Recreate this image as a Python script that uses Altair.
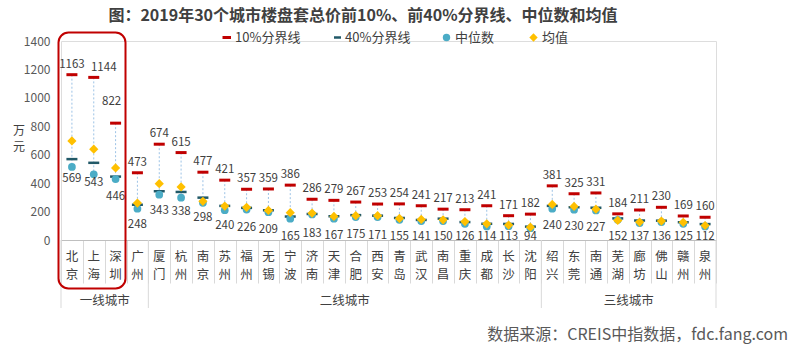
import altair as alt
import pandas as pd

# ---------------- data ----------------
cities = ["北京", "上海", "深圳", "广州", "厦门", "杭州", "南京", "苏州", "福州", "无锡",
          "宁波", "济南", "天津", "合肥", "西安", "青岛", "武汉", "南昌", "重庆", "成都",
          "长沙", "沈阳", "绍兴", "东莞", "南通", "芜湖", "廊坊", "佛山", "赣州", "泉州"]
tiers = ["一线城市"] * 4 + ["二线城市"] * 18 + ["三线城市"] * 8
p10 = [1163, 1144, 822, 473, 674, 615, 477, 421, 357, 359,
       386, 286, 279, 267, 253, 254, 241, 217, 213, 241,
       171, 182, 381, 325, 331, 184, 211, 230, 169, 160]
p40 = [569, 543, 446, 248, 343, 338, 298, 240, 226, 209,
       165, 183, 167, 175, 171, 155, 141, 150, 126, 114,
       113, 94, 240, 230, 227, 152, 137, 136, 125, 112]
median = [514, 462, 429, 220, 319, 298, 262, 210, 214, 196,
          150, 180, 150, 161, 161, 142, 133, 133, 114, 95,
          97, 83, 220, 213, 208, 142, 119, 126, 114, 95]
mean = [697, 639, 507, 260, 396, 373, 272, 239, 230, 208,
        192, 189, 166, 171, 171, 152, 145, 142, 130, 114,
        105, 90, 250, 236, 217, 138, 126, 133, 124, 102]

y_ticks = [0, 200, 400, 600, 800, 1000, 1200, 1400]
group_names = ["一线城市", "二线城市", "三线城市"]
group_center_city = ["深圳", "合肥", "廊坊"]
group_start_city = ["北京", "厦门", "绍兴"]
group_end_city = ["泉州"]
shifted_label_cities = ["上海", "深圳"]
legend_labels = ["10%分界线", "40%分界线", "中位数", "均值"]
title_text = "图：2019年30个城市楼盘套总价前10%、前40%分界线、中位数和均值"
source_text = "数据来源：CREIS中指数据，fdc.fang.com"
y_title = ["万", "元"]

# ---------------- styles ----------------
FONT = "Noto Sans CJK SC"
RED = "#C00000"
DARK = "#215968"
TEAL = "#4BACC6"
GOLD = "#FFC000"
TXT = "#404040"

df = pd.DataFrame(dict(city=cities, tier=tiers, p10=p10, p40=p40, med=median, mean=mean))
df["low"] = df[["med", "mean"]].min(axis=1)

xscale = alt.Scale(domain=cities, paddingInner=0, paddingOuter=0)
x_axis = alt.Axis(title=None, labels=False, grid=False, domainColor="#BFBFBF",
                  tickColor="#D9D9D9", tickBand="extent", tickSize=43)
yscale = alt.Scale(domain=[0, 1400], nice=False, zero=True)
y_axis = alt.Axis(values=y_ticks, format="d", title=None, grid=False, ticks=False, domain=False,
                  labelPadding=11, labelFontSize=12, labelColor="#595959", labelFont=FONT)


def X(**kw):
    return alt.X("city:N", sort=cities, scale=xscale, axis=x_axis, **kw)


def Y(field):
    return alt.Y(field, scale=yscale, axis=y_axis)


base = alt.Chart(df)

drop = base.mark_rule(color="#9DC3E6", strokeDash=[2, 2], strokeWidth=1).encode(
    x=X(), y=Y("p10:Q"), y2="low:Q")
t10 = base.mark_tick(color=RED, thickness=3, size=11, orient="horizontal", opacity=1).encode(
    x=X(), y=Y("p10:Q"))
t40 = base.mark_tick(color=DARK, thickness=2.5, size=11, orient="horizontal", opacity=1).encode(
    x=X(), y=Y("p40:Q"))
med_pts = base.mark_point(shape="circle", filled=True, size=60, color=TEAL, opacity=1).encode(
    x=X(), y=Y("med:Q"))
mean_pts = base.mark_point(shape="diamond", filled=True, size=85, color=GOLD, opacity=1).encode(
    x=X(), y=Y("mean:Q"))
lab10 = base.transform_filter(
    ~alt.FieldOneOfPredicate(field="city", oneOf=shifted_label_cities)).mark_text(
    dy=-10, baseline="middle", fontSize=11.5, color=TXT, font=FONT).encode(
    x=X(), y=Y("p10:Q"), text="p10:Q")
lab10_sh = base.transform_filter(alt.datum.city == shifted_label_cities[0]).mark_text(
    dy=-9, dx=10, baseline="middle", fontSize=11.5, color=TXT, font=FONT).encode(
    x=X(), y=Y("p10:Q"), text="p10:Q")
lab10_sz = base.transform_filter(alt.datum.city == shifted_label_cities[1]).mark_text(
    dy=-21, dx=-4, baseline="middle", fontSize=11.5, color=TXT, font=FONT).encode(
    x=X(), y=Y("p10:Q"), text="p10:Q")
# lower labels sit ~20px under the 40% dash but are kept inside the plot area (as Excel does)
lab40 = base.transform_calculate(
    ly="max(datum.p40 - 140.7, 22)").mark_text(
    baseline="middle", fontSize=11.5, color=TXT, font=FONT).encode(
    x=X(), y=Y("ly:Q"), text="p40:Q")

cat = base.transform_calculate(
    c1="substring(datum.city, 0, 1)", c2="substring(datum.city, 1, 2)")
cat1 = cat.mark_text(fontSize=12.5, color=TXT, font=FONT, baseline="middle").encode(
    x=X(), y=alt.value(216), text="c1:N")
cat2 = cat.mark_text(fontSize=12.5, color=TXT, font=FONT, baseline="middle").encode(
    x=X(), y=alt.value(234), text="c2:N")

gsep = alt.Chart(pd.DataFrame(dict(city=group_start_city))).mark_rule(
    color="#D9D9D9", strokeWidth=1).encode(
    x=X(bandPosition=0), y=alt.value(199), y2=alt.value(267))
gsep_end = alt.Chart(pd.DataFrame(dict(city=group_end_city))).mark_rule(
    color="#D9D9D9", strokeWidth=1).encode(
    x=X(bandPosition=1), y=alt.value(199), y2=alt.value(267))
glab = alt.Chart(pd.DataFrame(dict(city=group_center_city, name=group_names))).mark_text(
    fontSize=12.5, color=TXT, font=FONT, baseline="middle").encode(
    x=X(bandPosition=0), y=alt.value(260), text="name:N")

one = alt.Chart(pd.DataFrame({"k": [0]}))
title = one.mark_text(fontSize=16, fontWeight="bold", color=TXT, font=FONT,
                      baseline="middle", align="center").encode(
    x=alt.value(302), y=alt.value(-25), text=alt.value(title_text))
source = one.mark_text(fontSize=16, color="#595959", font=FONT,
                       baseline="middle", align="right").encode(
    x=alt.value(727), y=alt.value(294), text=alt.value(source_text))
ytitle1 = one.mark_text(fontSize=12, color=TXT, font=FONT, baseline="middle",
                        align="center").encode(
    x=alt.value(-42), y=alt.value(90), text=alt.value(y_title[0]))
ytitle2 = one.mark_text(fontSize=12, color=TXT, font=FONT, baseline="middle",
                        align="center").encode(
    x=alt.value(-42), y=alt.value(106), text=alt.value(y_title[1]))
box = one.mark_rect(fill="transparent", stroke=RED, strokeWidth=2, cornerRadius=10).encode(
    x=alt.value(-2.5), x2=alt.value(64.5), y=alt.value(-8.5), y2=alt.value(247.5))

LY = -3.5
leg_r1 = one.mark_rule(color=RED, strokeWidth=3).encode(
    x=alt.value(161.5), x2=alt.value(170), y=alt.value(LY))
leg_r2 = one.mark_rule(color=DARK, strokeWidth=2.5).encode(
    x=alt.value(273), x2=alt.value(280), y=alt.value(LY))
leg_c = one.mark_point(shape="circle", filled=True, size=55, color=TEAL, opacity=1).encode(
    x=alt.value(385.5), y=alt.value(LY))
leg_d = one.mark_point(shape="diamond", filled=True, size=70, color=GOLD, opacity=1).encode(
    x=alt.value(472.5), y=alt.value(LY))
leg_texts = []
for lx, lab in zip([174, 284, 394, 481], legend_labels):
    leg_texts.append(one.mark_text(fontSize=13, color=TXT, font=FONT, baseline="middle",
                                   align="left").encode(
        x=alt.value(lx), y=alt.value(LY), text=alt.value(lab)))

chart = alt.layer(
    drop, t10, t40, med_pts, mean_pts, lab10, lab10_sh, lab10_sz, lab40, cat1, cat2,
    gsep, gsep_end, glab,
    title, source, ytitle1, ytitle2, box, leg_r1, leg_r2, leg_c, leg_d, *leg_texts
).properties(
    width=655, height=199,
    padding={"left": 61, "top": 41, "right": 81, "bottom": 113},
    autosize=alt.AutoSizeParams(type="none"),
    background="white",
).configure_view(stroke=None).configure(font=FONT)

chart.save("out.html", embed_options={"renderer": "svg", "actions": False})
